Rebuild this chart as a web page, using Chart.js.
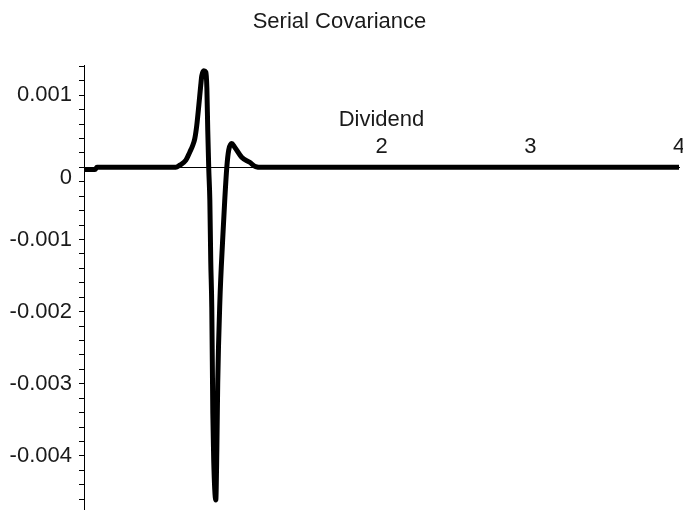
<!DOCTYPE html>
<html>
<head>
<meta charset="utf-8">
<script src="https://cdn.jsdelivr.net/npm/chart.js@4.4.1/dist/chart.umd.min.js"></script>
<style>
  html, body { margin: 0; padding: 0; background: #fff; }
  #wrap { width: 683px; height: 510px; }
</style>
</head>
<body>
<div id="wrap"><canvas id="chart"></canvas></div>
<script>
// Valeurs (x = Dividend, y = covariance)
const dividend = [0, 0.074, 0.087, 0.3, 0.5, 0.617, 0.644, 0.685, 0.711, 0.732, 0.745, 0.758, 0.772, 0.785,
  0.792, 0.805, 0.819, 0.826, 0.832, 0.839, 0.846, 0.852, 0.859, 0.866, 0.872, 0.886, 0.893, 0.899, 0.913,
  0.933, 0.946, 0.960, 0.973, 0.993, 1.013, 1.060, 1.114, 1.154, 1.195, 1.5, 2, 3, 4];
const covariance = [-0.00003, -0.00003, 0, 0, 0, 0, 0.00003, 0.00010, 0.00021, 0.00031, 0.00040, 0.00058, 0.00086, 0.00114,
  0.00127, 0.00134, 0.00132, 0.00110, 0.00051, -0.00004, -0.00046, -0.00129, -0.00194, -0.00341, -0.00406, -0.00461, -0.00392, -0.00299, -0.00188,
  -0.00097, -0.00046, 0, 0.00024, 0.00033, 0.00028, 0.00014, 0.00007, 0.00001, 0, 0, 0, 0, 0];
const xLabels = [2, 3, 4];
const yLabels = [0.001, 0, -0.001, -0.002, -0.003, -0.004];

const FAMILY = '"Liberation Sans", Arial, sans-serif';
const FONT = { family: FAMILY, size: 22 };
const INK = '#1a1a1a';

function yLabel(v) {
  const hit = yLabels.find(t => Math.abs(t - v) < 1e-9);
  if (hit === undefined) return '';
  if (hit === 0) return ['', '0']; // le 0 est décalé sous l'axe des x
  return String(hit);
}

function xLabel(v) {
  const r = Math.round(v);
  return xLabels.includes(r) && Math.abs(v - r) < 1e-9 ? String(r) : '';
}

new Chart(document.getElementById('chart'), {
  type: 'line',
  data: {
    datasets: [{
      data: dividend.map((x, i) => ({ x, y: covariance[i] })),
      borderColor: '#000',
      borderWidth: 5,
      pointRadius: 0,
      tension: 0.4,
      cubicInterpolationMode: 'monotone',
      fill: false,
    }],
  },
  options: {
    responsive: true,
    maintainAspectRatio: false,
    animation: false,
    layout: { padding: { left: 0, right: 4, top: 0, bottom: 0 } },
    plugins: {
      legend: { display: false },
      tooltip: { enabled: false },
      title: {
        display: true,
        text: 'Serial Covariance',
        color: INK,
        font: { ...FONT, weight: 'normal' },
        padding: { top: 9, bottom: 30 },
      },
    },
    scales: {
      x: {
        type: 'linear',
        min: 0,
        max: 4,
        position: { y: 0 },
        grid: { display: true, drawOnChartArea: false, drawTicks: false },
        border: { display: true, color: '#000', width: 1 },
        ticks: { stepSize: 1, autoSkip: false, maxRotation: 0, padding: -34, color: INK, font: FONT, callback: xLabel },
        title: { display: true, text: 'Dividend', color: INK, font: FONT, padding: { top: 0, bottom: 34 } },
        afterFit: s => { s.paddingLeft = 0; s.paddingRight = 0; s.height = 0; },
      },
      y: {
        type: 'linear',
        min: -0.00475,
        max: 0.001413,
        position: 'left',
        grid: { display: true, drawOnChartArea: false, drawTicks: true, tickLength: 5, color: '#000' },
        border: { display: true, color: '#000', width: 1 },
        ticks: {
          stepSize: 0.0002, includeBounds: false, autoSkip: false, padding: 7, color: INK,
          font: { family: FAMILY, size: 22, lineHeight: 1.0 }, callback: yLabel,
        },
        afterFit: s => { s.width = 84; s.paddingTop = 0; s.paddingBottom = 0; },
      },
    },
  },
});
</script>
</body>
</html>
